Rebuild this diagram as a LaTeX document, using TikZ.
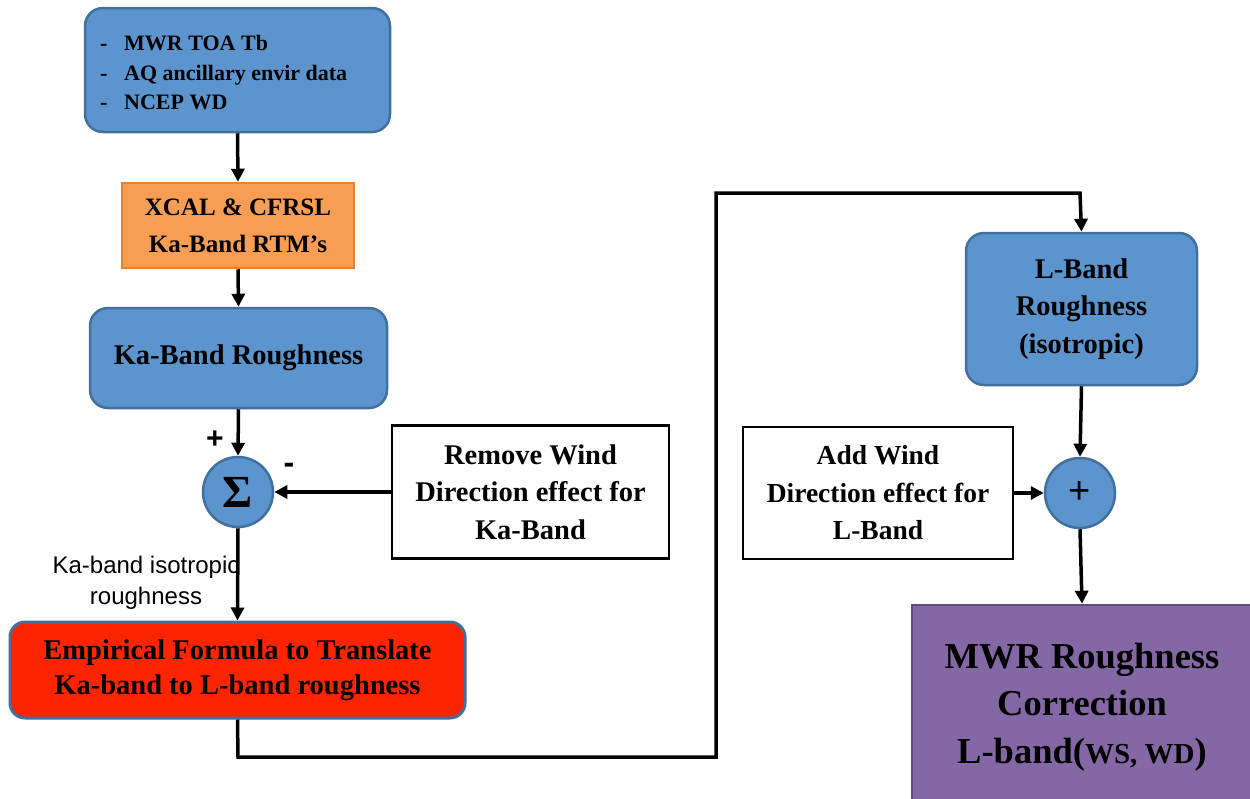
\documentclass[tikz,border=0pt]{standalone}
\usepackage{fontspec}
\setmainfont{Liberation Serif}
\newfontfamily\sansf{Liberation Sans}
\usetikzlibrary{arrows.meta}
\definecolor{bfill}{RGB}{92,149,206}
\definecolor{bdraw}{RGB}{66,112,158}
\definecolor{ofill}{RGB}{247,158,84}
\definecolor{odraw}{RGB}{224,132,58}
\definecolor{rfill}{RGB}{255,36,0}
\definecolor{pfill}{RGB}{132,104,166}
\definecolor{pdraw}{RGB}{96,76,128}
\tikzset{
  base/.style={inner sep=0pt, align=center, font=\bfseries\fontsize{28.5}{37.5}\selectfont},
  bluebox/.style={base, fill=bfill, draw=bdraw, line width=2.5pt, rounded corners=18pt},
  orangebox/.style={base, fill=ofill, draw=odraw, line width=2.5pt, font=\bfseries\fontsize{25}{37}\selectfont},
  redbox/.style={base, fill=rfill, draw=bdraw, line width=3pt, rounded corners=15pt, font=\bfseries\fontsize{28.5}{35}\selectfont},
  whitebox/.style={base, fill=white, draw=black, line width=2.5pt},
  purplebox/.style={base, fill=pfill, draw=pdraw, line width=2.5pt},
  junction/.style={circle, fill=bfill, draw=bdraw, line width=2.5pt, minimum size=70pt, inner sep=0pt},
  conn/.style={line width=3.5pt, -{Triangle[length=13pt,width=13pt]}},
  lbl/.style={inner sep=0pt, font=\sansf\fontsize{24}{31}\selectfont, align=center},
}
\begin{document}
\begin{tikzpicture}[x=1pt,y=-1pt]
\useasboundingbox (0,0) rectangle (1250,798);
\fill[white] (0,0) rectangle (1250,798);

\node[bluebox, minimum width=305pt, minimum height=124pt] (top) at (237.5,70) {};
\node[inner sep=0pt, align=left, anchor=west, font=\bfseries\fontsize{22}{29.5}\selectfont] (toptext) at (100,73)
  {\makebox[24pt][l]{-}MWR TOA Tb\\\makebox[24pt][l]{-}AQ ancillary envir data\\\makebox[24pt][l]{-}NCEP WD};

\node[orangebox, minimum width=232pt, minimum height=85pt] (rtm) at (238,225.5) {XCAL \& CFRSL\\Ka-Band RTM’s};

\node[bluebox, minimum width=297pt, minimum height=100pt] (ka) at (238.5,358) {Ka-Band Roughness};

\node[junction] (sum) at (238,492) {\bfseries\fontsize{46}{46}\selectfont Σ};
\node[lbl, font=\sansf\bfseries\fontsize{30}{30}\selectfont] (plus1) at (215,440) {+};
\node[lbl, font=\sansf\bfseries\fontsize{32}{32}\selectfont] (minus1) at (289,468) {-};

\node[whitebox, minimum width=277pt, minimum height=133pt] (remove) at (530.5,492) {Remove Wind\\Direction effect for\\Ka-Band};

\node[lbl] (isolbl) at (146,583) {Ka-band isotropic\\roughness};

\node[redbox, minimum width=455pt, minimum height=96pt] (red) at (237.5,670) {Empirical Formula to Translate\\Ka-band to L-band roughness};

\node[bluebox, minimum width=231pt, minimum height=152pt] (lband) at (1081.5,309) {L-Band\\Roughness\\(isotropic)};

\node[whitebox, minimum width=270pt, minimum height=132pt, font=\bfseries\fontsize{27.5}{37.5}\selectfont] (add) at (878,493) {Add Wind\\Direction effect for\\L-Band};

\node[junction] (plus) at (1080,493) {\sansf\fontsize{38}{38}\selectfont +};

\begin{scope}
\clip (0,0) rectangle (1250,798);
\node[purplebox, minimum width=340pt, minimum height=196pt] (mwr) at (1082,703) {};
\end{scope}
\node[inner sep=0pt, align=center, font=\bfseries\fontsize{36.5}{47.5}\selectfont] (mwrtext) at (1082,707)
  {MWR Roughness\\Correction\\L-band({\fontsize{29}{29}\selectfont WS, WD})};

\coordinate (c1) at (238,757);
\coordinate (c2) at (716,757);
\coordinate (c3) at (716,193);
\coordinate (c4) at (1080,193);

\draw[conn] (top.south) -- (rtm.north);
\draw[conn] (rtm.south) -- (ka.north);
\draw[conn] (ka.south) -- (sum.north);
\draw[conn] (remove.west) -- (sum.east);
\draw[conn] (sum.south) -- (red.north);
\draw[conn, line join=miter] (red.south) -- (c1) -- (c2) -- (c3) -- (c4) -- (lband.north);
\draw[conn] (lband.south) -- (plus.north);
\draw[conn] (add.east) -- (plus.west);
\draw[conn] (plus.south) -- (mwr.north);
\end{tikzpicture}
\end{document}
